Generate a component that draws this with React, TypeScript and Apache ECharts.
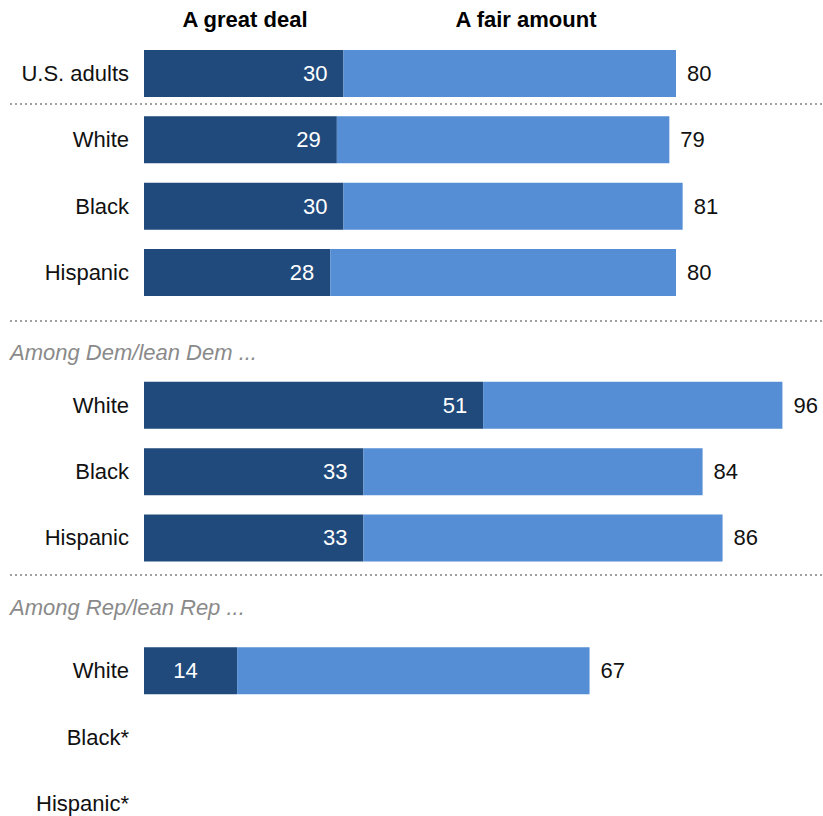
import React, { useEffect, useRef } from "react";
import * as echarts from "echarts";

const categories = ["U.S. adults", "White", "Black", "Hispanic", "", "White", "Black", "Hispanic", "", "White", "Black*", "Hispanic*"];
const greatDeal: (number | null)[] = [30, 29, 30, 28, null, 51, 33, 33, null, 14, null, null];
const fairAmount: (number | null)[] = [50, 50, 51, 52, null, 45, 51, 54, null, 53, null, null];
const netLabels: (number | null)[] = [80, 79, 81, 80, null, 96, 84, 86, null, 67, null, null];
const seriesNames = ["A great deal", "A fair amount"];
const sectionLabels = ["Among Dem/lean Dem ...", "Among Rep/lean Rep ..."];

const FONT = "'Liberation Sans', Arial, sans-serif";
const DARK = "#214a7c";
const LIGHT = "#558ed5";

export default function App() {
  const ref = useRef<HTMLDivElement>(null);
  useEffect(() => {
    document.body.style.margin = "0";
    const chart = echarts.init(ref.current!, null, { renderer: "svg" });
    const sepStyle = { stroke: "#a0a0a0", lineWidth: 2, lineDash: [2, 3] };
    chart.setOption({
      animation: false,
      grid: { left: 144, width: 665, top: 40.3, height: 796.3, outerBoundsMode: "none", containLabel: false },
      xAxis: { type: "value", min: 0, max: 100, show: false },
      yAxis: {
        type: "category",
        data: categories,
        inverse: true,
        axisLine: { show: false },
        axisTick: { show: false },
        splitLine: { show: false },
        axisLabel: { fontSize: 22, color: "#111", fontFamily: FONT, margin: 15 },
      },
      series: [
        {
          name: seriesNames[0],
          type: "bar",
          stack: "s",
          barWidth: 47,
          itemStyle: { color: DARK },
          data: greatDeal.map((v) =>
            v == null
              ? null
              : v < 20
              ? { value: v, label: { position: "inside", offset: [-5, 0] } }
              : v
          ),
          label: {
            show: true,
            position: "insideRight",
            distance: 16,
            color: "#fff",
            fontSize: 22,
            fontFamily: FONT,
          },
        },
        {
          name: seriesNames[1],
          type: "bar",
          stack: "s",
          barWidth: 47,
          itemStyle: { color: LIGHT },
          data: fairAmount,
          label: {
            show: true,
            position: "right",
            distance: 11,
            color: "#111",
            fontSize: 22,
            fontFamily: FONT,
            formatter: (p: any) => (netLabels[p.dataIndex] == null ? "" : String(netLabels[p.dataIndex])),
          },
        },
      ],
      graphic: [
        { type: "text", x: 245, y: 19, style: { text: seriesNames[0], fontSize: 22, fontWeight: "bold", fontFamily: FONT, fill: "#000", align: "center", verticalAlign: "middle" } },
        { type: "text", x: 526, y: 19, style: { text: seriesNames[1], fontSize: 22, fontWeight: "bold", fontFamily: FONT, fill: "#000", align: "center", verticalAlign: "middle" } },
        { type: "line", shape: { x1: 10, y1: 104, x2: 823, y2: 104 }, style: sepStyle },
        { type: "line", shape: { x1: 10, y1: 321, x2: 823, y2: 321 }, style: sepStyle },
        { type: "line", shape: { x1: 10, y1: 575, x2: 823, y2: 575 }, style: sepStyle },
        { type: "text", x: 10, y: 352, style: { text: sectionLabels[0], fontSize: 22, fontStyle: "italic", fontFamily: FONT, fill: "#8a8a8a", align: "left", verticalAlign: "middle" } },
        { type: "text", x: 10, y: 607, style: { text: sectionLabels[1], fontSize: 22, fontStyle: "italic", fontFamily: FONT, fill: "#8a8a8a", align: "left", verticalAlign: "middle" } },
      ],
    });
    return () => chart.dispose();
  }, []);
  return <div ref={ref} style={{ width: 823, height: 816 }} />;
}
